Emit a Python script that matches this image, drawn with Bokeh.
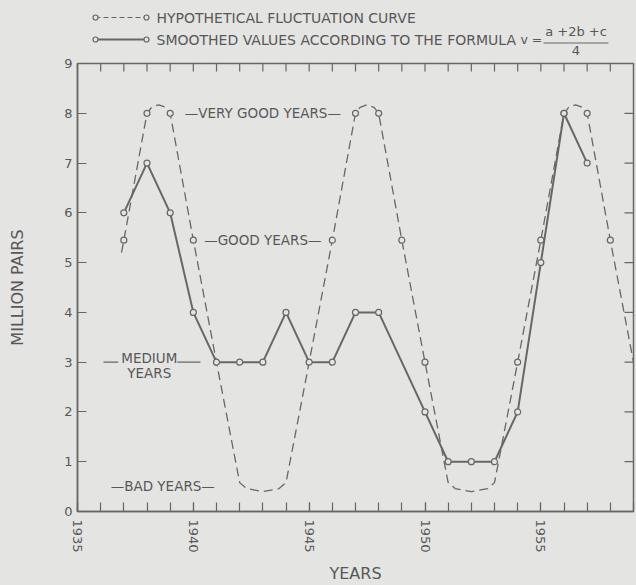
from bokeh.plotting import figure
from bokeh.models import Range1d, SingleIntervalTicker, Label
from bokeh.layouts import column
from bokeh.embed import file_html
from bokeh.resources import INLINE
from bokeh.core.properties import value

# ---------------- data ----------------
# hypothetical fluctuation curve (dashed)
hyp_years = [1936.9, 1937, 1938, 1938.2, 1938.5, 1938.8, 1939,
             1940, 1941, 1942, 1942.3, 1943, 1943.7, 1944,
             1945, 1946, 1947, 1947.2, 1947.5, 1947.8, 1948,
             1949, 1950, 1951, 1951.3, 1952, 1952.7, 1953,
             1954, 1955, 1956, 1956.2, 1956.5, 1956.8, 1957,
             1958, 1959]
hyp_values = [5.2, 5.45, 8, 8.12, 8.17, 8.12, 8,
              5.45, 3, 0.58, 0.46, 0.4, 0.46, 0.58,
              3, 5.45, 8, 8.12, 8.17, 8.12, 8,
              5.45, 3, 0.58, 0.46, 0.4, 0.46, 0.58,
              3, 5.45, 8, 8.12, 8.17, 8.12, 8,
              5.45, 3]
# open-circle markers on the hypothetical curve
hyp_mark_years = [1937, 1938, 1939, 1940, 1946, 1947, 1948, 1949, 1950,
                  1954, 1955, 1956, 1957, 1958]
hyp_mark_values = [5.45, 8, 8, 5.45, 5.45, 8, 8, 5.45, 3,
                   3, 5.45, 8, 8, 5.45]
# smoothed values v = (a + 2b + c) / 4
smooth_years = [1937, 1938, 1939, 1940, 1941, 1942, 1943, 1944, 1945, 1946,
                1947, 1948, 1950, 1951, 1952, 1953, 1954, 1955, 1956, 1957]
smooth_values = [6, 7, 6, 4, 3, 3, 3, 4, 3, 3,
                 4, 4, 2, 1, 1, 1, 2, 5, 8, 7]

legend_labels = ["HYPOTHETICAL FLUCTUATION CURVE",
                 "SMOOTHED VALUES ACCORDING TO THE FORMULA"]

# tick positions for the inward ticks on the top and right frame edges
top_ticks = list(range(1936, 1959))
right_ticks = list(range(1, 9))

# annotation texts
ann_text = ["\u2014VERY GOOD YEARS\u2014", "\u2014GOOD YEARS\u2014",
            "\u2014BAD YEARS\u2014", "MEDIUM", "YEARS"]
ann_x = [1943, 1943, 1938.68, 1938.1, 1938.1]
ann_y = [8, 5.45, 0.52, 3.08, 2.78]
medium_x0 = [1936.12, 1939.31]
medium_x1 = [1936.76, 1940.31]
medium_y = [3, 3]

# ---------------- style ----------------
BG = "#e4e4e2"
INK = "#676767"
TXT = "#585858"
FONT = "DejaVu Sans"
W = 636
LEG_H = 57
MAIN_H = 528
BL, BR = 77, 3          # left / right borders of the plotting frame
X0, X1, Y0, Y1 = 1935, 1959, 0, 9

# ---------------- legend strip (pixel coordinates) ----------------
leg = figure(width=W, height=LEG_H, x_range=Range1d(BL, W - BR), y_range=Range1d(LEG_H, 0),
             x_axis_type=None, y_axis_type=None, toolbar_location=None,
             output_backend="svg", min_border_left=BL, min_border_right=BR,
             min_border_top=0, min_border_bottom=0)
leg.outline_line_color = None
leg.background_fill_color = BG
leg.border_fill_color = BG
leg.grid.visible = False

row_y = [17, 39]
lx0, lx1, tx = 95, 146, 156
leg.line([lx0, lx1], [row_y[0], row_y[0]], line_dash="5 3", line_width=1.2, color=INK)
leg.line([lx0, lx1], [row_y[1], row_y[1]], line_width=2, color=INK)
leg.scatter([lx0, lx1, lx0, lx1], [row_y[0], row_y[0], row_y[1], row_y[1]],
            marker="circle", size=5, fill_color=BG, line_color=INK, line_width=1.2)
leg.text([tx, tx], row_y, text=legend_labels, text_font=value(FONT),
         text_font_size="14px", text_baseline="middle", text_color=TXT)
leg.text([520], [row_y[1]], text=["v ="], text_font=value(FONT),
         text_font_size="12.5px", text_baseline="middle", text_color=TXT)
leg.text([575.5], [31], text=["a +2b +c"], text_font=value(FONT), text_align="center",
         text_font_size="13px", text_baseline="middle", text_color=TXT)
leg.line([543, 608], [42.5, 42.5], line_width=1.2, color=INK)
leg.text([575.5], [49.5], text=["4"], text_font=value(FONT), text_align="center",
         text_font_size="13px", text_baseline="middle", text_color=TXT)

# ---------------- main chart ----------------
p = figure(width=W, height=MAIN_H, x_range=Range1d(X0, X1), y_range=Range1d(Y0, Y1),
           toolbar_location=None, output_backend="svg",
           min_border_left=BL, min_border_right=BR, min_border_top=6, min_border_bottom=72)
p.background_fill_color = BG
p.border_fill_color = BG
p.outline_line_color = INK
p.outline_line_width = 1.5
p.grid.visible = False

p.xaxis.ticker = SingleIntervalTicker(interval=5, num_minor_ticks=5)
p.yaxis.ticker = SingleIntervalTicker(interval=1, num_minor_ticks=0)
for ax in [p.xaxis[0], p.yaxis[0]]:
    ax.axis_line_color = INK
    ax.axis_line_width = 1.5
    ax.major_tick_in = 9
    ax.major_tick_out = 0
    ax.minor_tick_in = 9
    ax.minor_tick_out = 0
    ax.major_tick_line_color = INK
    ax.minor_tick_line_color = INK
    ax.major_tick_line_width = 1.2
    ax.minor_tick_line_width = 1.2
    ax.major_label_text_font = FONT
    ax.major_label_text_font_size = "13px"
    ax.major_label_text_color = TXT
    ax.axis_label_text_font = FONT
    ax.axis_label_text_font_size = "16px"
    ax.axis_label_text_font_style = "normal"
    ax.axis_label_text_color = TXT
p.xaxis.major_label_orientation = "vertical"
p.xaxis.major_label_standoff = 8
p.yaxis.major_label_standoff = 5
p.yaxis.minor_tick_line_color = None
p.xaxis.axis_label = "YEARS"
p.xaxis.axis_label_standoff = 8
p.yaxis.axis_label = "MILLION PAIRS"
p.yaxis.axis_label_standoff = 34

# inward ticks on top and right edges (half of each dash is clipped by the frame)
p.scatter(top_ticks, [Y1] * len(top_ticks), marker="dash", angle=1.5708, size=16,
          line_color=INK, line_width=1.2)
p.scatter([X1] * len(right_ticks), right_ticks, marker="dash", size=18,
          line_color=INK, line_width=1.2)

p.line(hyp_years, hyp_values, line_dash="9 5", line_width=1.3, color=INK)
p.line(smooth_years, smooth_values, line_width=2, color=INK)
p.scatter(hyp_mark_years, hyp_mark_values, marker="circle", size=6,
          fill_color=BG, line_color=INK, line_width=1.2)
p.scatter(smooth_years, smooth_values, marker="circle", size=6,
          fill_color=BG, line_color=INK, line_width=1.2)

p.segment(medium_x0, medium_y, medium_x1, medium_y, line_width=1.3, color=INK)
for t, x, y in zip(ann_text, ann_x, ann_y):
    p.add_layout(Label(x=x, y=y, text=t, text_font=FONT, text_font_size="13.5px",
                       text_color=TXT, text_align="center", text_baseline="middle"))

layout = column(leg, p)

TEMPLATE = """{% block preamble %}<style>html, body { background: #e4e4e2; }</style>{% endblock %}"""
open("out.html", "w").write(file_html(layout, INLINE, template=TEMPLATE))
